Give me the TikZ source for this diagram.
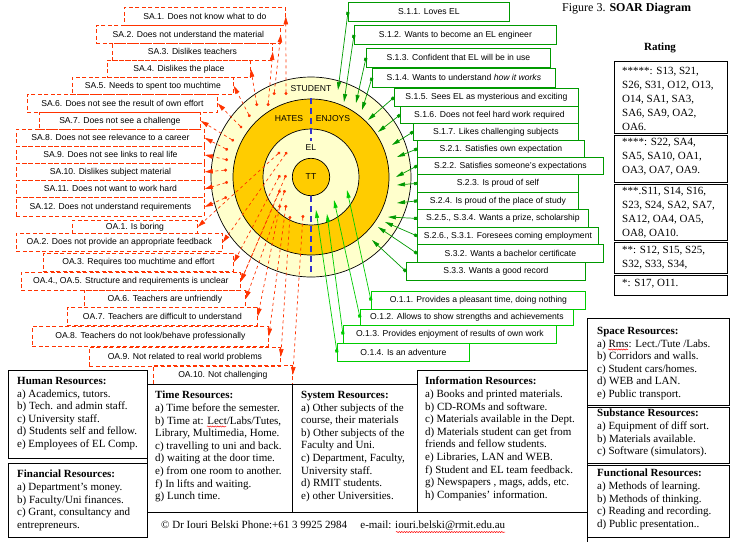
\documentclass[tikz,border=0pt]{standalone}
\usepackage{fontspec}
\setmainfont{Liberation Serif}
\newfontfamily\arialfont{Liberation Sans}
\usetikzlibrary{arrows.meta,decorations.pathmorphing}
\definecolor{myorange}{RGB}{255,204,0}
\definecolor{mycream}{RGB}{255,255,204}
\definecolor{myred}{RGB}{255,51,0}
\definecolor{mygreen}{RGB}{0,153,0}
\definecolor{mylime}{RGB}{0,204,0}
\definecolor{myblue}{RGB}{51,51,204}

\begin{document}
\begin{tikzpicture}[x=1pt, y=-1pt,
    lbl/.style={font=\arialfont\fontsize{8.6}{10}\selectfont},
    redbox/.style={lbl, draw=myred, dash pattern=on 4pt off 2.5pt, line width=0.8pt, inner sep=0pt, anchor=north west},
    sbox/.style={lbl, draw=mygreen, line width=0.8pt, inner sep=0pt, anchor=north west},
    obox/.style={sbox, draw=mylime},
    redline/.style={myred, line width=0.7pt, dash pattern=on 3pt off 3pt, {Circle[length=3pt]}-{Triangle[length=8pt,width=4.5pt]}},
    sline/.style={mygreen, line width=0.7pt, {Square[length=3pt]}-{Triangle[length=8pt,width=4pt]}},
    oline/.style={sline, mylime},
    restext/.style={font=\fontsize{11}{12.6}\selectfont, align=left, anchor=north west, inner sep=0pt},
    ratetext/.style={restext, font=\fontsize{11}{14}\selectfont},
    frame/.style={draw=black, line width=0.8pt},
    blueaxis/.style={myblue, line width=1.6pt, dash pattern=on 6pt off 4pt},
    spellwave/.style={red, line width=0.5pt, decorate, decoration={snake, amplitude=0.6pt, segment length=2.5pt}}
]
\useasboundingbox (0,0) rectangle (734,542);

    % the SOAR circles
    \coordinate (ctr) at (311,177);
    \draw[line width=0.7pt, fill=mycream] (ctr) circle[radius=100];
    \draw[line width=0.7pt, fill=myorange] (ctr) circle[radius=78];
    \draw[line width=0.7pt, fill=mycream] (ctr) circle[radius=48];
    \draw[line width=0.7pt, fill=myorange] (ctr) circle[radius=18.7];
    \draw[blueaxis] (311,98) -- (311,141);
    \draw[blueaxis] (311,196) -- (311,276);
    \node[lbl] (student) at (311,89) {STUDENT};
    \node[lbl] (hates) at (289,119) {HATES};
    \node[lbl] (enjoys) at (333,119) {ENJOYS};
    \node[lbl] (el) at (311,148) {EL};
    \node[lbl] (tt) at (311,177) {TT};

    % red dashed boxes on the left (name/left/top/right/bottom/text)
    \foreach \nm/\l/\t/\r/\b/\txt in {
        sa1/124/7/285/25/{SA.1. Does not know what to do},
        sa2/96/25/280/43/{SA.2. Does not understand the material},
        sa3/112/43/272/60/{SA.3. Dislikes teachers},
        sa4/107/60/250/77/{SA.4. Dislikes the place},
        sa5/72/77/233/94/{SA.5. Needs to spent too muchtime},
        sa6/27/94/217/112/{SA.6. Does not see the result of own effort},
        sa7/39/112/200/129/{SA.7. Does not see a challenge},
        sa8/16/129/204/146/{SA.8. Does not see relevance to a career},
        sa9/16/146/204/163/{SA.9. Does not see links to real life},
        sa10/16/163/204/180/{SA.10. Dislikes subject material},
        sa11/16/180/204/197/{SA.11. Does not want to work hard},
        sa12/16/197/204/216/{SA.12. Does not understand requirements},
        oa1/72/220/197/233/{OA.1. Is boring},
        oa2/16/233/222/251/{OA.2. Does not provide an appropriate feedback},
        oa3/43/253/233/271/{OA.3. Requires too muchtime and effort},
        oa45/21/272/240/290/{OA.4., OA.5. Structure and requirements is unclear},
        oa6/84/290/245/307/{OA.6. Teachers are unfriendly},
        oa7/67/307/257/325/{OA.7. Teachers are difficult to understand},
        oa8/32/326/268/346/{OA.8. Teachers do not look/behave professionally},
        oa9/89/347/280/366/{OA.9. Not related to real world problems},
        oa10/153/365/292/384/{OA.10. Not challenging}} {
        \node[redbox, minimum width={(\r-\l)*1pt}, minimum height={(\b-\t)*1pt}] (\nm) at (\l,\t) {\txt};
    }

    % green boxes on the right
    \foreach \nm/\l/\t/\r/\b/\txt in {
        s11/348/2/509/21/{S.1.1. Loves EL},
        s12/354/25/556/44/{S.1.2. Wants to become an EL engineer},
        s13/366/48/550/67/{S.1.3. Confident that EL will be in use},
        s14/372/68/555/87/{S.1.4. Wants to understand \textit{how it works}},
        s15/394/88/578/106/{S.1.5. Sees EL as mysterious and exciting},
        s16/400/106/578/123/{S.1.6. Does not feel hard work required},
        s17/413/123/578/140/{S.1.7. Likes challenging subjects},
        s21/417/140/584/157/{S.2.1. Satisfies own expectation},
        s22/417/157/603/174/{S.2.2. Satisfies someone’s expectations},
        s23/417/174/578/192/{S.2.3. Is proud of self},
        s24/417/192/578/209/{S.2.4. Is proud of the place of study},
        s25/417/209/588/227/{S.2.5., S.3.4. Wants a prize, scholarship},
        s26/417/227/598/244/{S.2.6., S.3.1. Foresees coming employment},
        s32/417/244/603/262/{S.3.2. Wants a bachelor certificate},
        s33/406/262/585/280/{S.3.3. Wants a good record}} {
        \node[sbox, minimum width={(\r-\l)*1pt}, minimum height={(\b-\t)*1pt}] (\nm) at (\l,\t) {\txt};
    }
    \foreach \nm/\l/\t/\r/\b/\txt in {
        o11/371/291/585/309/{O.1.1. Provides a pleasant time, doing nothing},
        o12/360/309/573/325/{O.1.2. Allows to show strengths and achievements},
        o13/343/325/556/343/{O.1.3. Provides enjoyment of results of own work},
        o14/337/343/469/361/{O.1.4. Is an adventure}} {
        \node[obox, minimum width={(\r-\l)*1pt}, minimum height={(\b-\t)*1pt}] (\nm) at (\l,\t) {\txt};
    }

    % red connectors: from the circles out to the boxes
    \foreach \nm/\px/\py in {sa1/286/95, sa2/274/95, sa3/268/106, sa4/257/106,
        sa5/250/117, sa6/242/128, sa7/234/141, sa8/228/150, sa9/228/160,
        sa10/227/170, sa11/228/182, sa12/227/197, oa1/280/152, oa2/287/152,
        oa3/280/175, oa45/286/175, oa6/285/190, oa7/280/205, oa8/286/205,
        oa9/290/216, oa10/303/215} {
        \coordinate (t\nm) at (\px,\py);
        \draw[redline] (t\nm) -- (\nm.east);
    }
    \coordinate (toa45b) at (280,190);
    \draw[redline] (toa45b) -- (oa45.east);

    % green connectors: from the boxes into the circles
    \foreach \nm/\px/\py in {s11/338/90, s12/344/102, s13/356/103, s14/362/110,
        s15/368/120, s16/378/132, s17/392/145, s21/397/157, s22/396/177,
        s23/397/185, s24/397/203, s25/388/217, s26/385/222, s32/378/227,
        s33/372/240} {
        \coordinate (t\nm) at (\px,\py);
        \draw[sline] (\nm.west) -- (t\nm);
    }
    \foreach \nm/\px/\py in {o11/347/190, o12/334/200, o13/327/214, o14/316/210} {
        \coordinate (t\nm) at (\px,\py);
        \draw[oline] (\nm.west) -- (t\nm);
    }

    % title and rating table
    \node[anchor=west, inner sep=0pt, font=\fontsize{12}{14}\selectfont] (title) at (562,9) {Figure 3. \textbf{SOAR Diagram}};
    \node[font=\bfseries\fontsize{11}{13}\selectfont] (rating) at (660,48) {Rating};
    \draw[frame] (614,61) rectangle (727,133);
    \draw[frame] (614,135) rectangle (727,182);
    \draw[frame] (614,184) rectangle (727,240);
    \draw[frame] (614,242) rectangle (727,273);
    \draw[frame] (614,275) rectangle (727,295);
    \node[ratetext] (r5) at (622,67) {*****: S13, S21,\\S26, S31, O12, O13,\\O14, SA1, SA3,\\SA6, SA9, OA2,\\OA6.};
    \node[ratetext] (r4) at (622,138) {****: S22, SA4,\\SA5, SA10, OA1,\\OA3, OA7, OA9.};
    \node[ratetext] (r3) at (622,187) {***.S11, S14, S16,\\S23, S24, SA2, SA7,\\SA12, OA4, OA5,\\OA8, OA10.};
    \node[ratetext] (r2) at (622,246) {**: S12, S15, S25,\\S32, S33, S34,};
    \node[ratetext] (r1) at (622,279) {*: S17, O11.};

    % resources
    \draw[frame] (8,370) rectangle (147,458);
    \draw[frame] (8,463) rectangle (147,537);
    \draw[frame] (147,384) rectangle (292,512);
    \draw[frame] (292,384) rectangle (417,512);
    \draw[frame] (417,370) rectangle (587,512);
    \draw[frame] (587,512) -- (587,542);
    \draw[frame] (587,318) rectangle (729,405);
    \draw[frame] (587,407) rectangle (729,463);
    \draw[frame] (587,465) rectangle (729,537);
    \node[restext] (human) at (17,377) {\textbf{Human Resources:}\\a) Academics, tutors.\\b) Tech. and admin staff.\\c) University staff.\\d) Students self and fellow.\\e) Employees of EL Comp.};
    \node[restext] (money) at (17,470) {\textbf{Financial Resources:}\\a) Department’s money.\\b) Faculty/Uni finances.\\c) Grant, consultancy and\\entrepreneurs.};
    \node[restext] (time) at (155,391) {\textbf{Time Resources:}\\a) Time before the semester.\\b) Time at: Lect/Labs/Tutes,\\Library, Multimedia, Home.\\c) travelling to uni and back.\\d) waiting at the door time.\\e) from one room to another.\\f) In lifts and waiting.\\g) Lunch time.};
    \node[restext] (system) at (301,391) {\textbf{System Resources:}\\a) Other subjects of the\\course, their materials\\b) Other subjects of the\\Faculty and Uni.\\c) Department, Faculty,\\University staff.\\d) RMIT students.\\e) other Universities.};
    \node[restext] (info) at (425,377) {\textbf{Information Resources:}\\a) Books and printed materials.\\b) CD-ROMs and software.\\c) Materials available in the Dept.\\d) Materials student can get from\\friends and fellow students.\\e) Libraries, LAN and WEB.\\f) Student and EL team feedback.\\g) Newspapers , mags, adds, etc.\\h) Companies’ information.};
    \node[restext] (space) at (597,327) {\textbf{Space Resources:}\\a) Rms: Lect./Tute /Labs.\\b) Corridors and walls.\\c) Student cars/homes.\\d) WEB and LAN.\\e) Public transport.};
    \node[restext] (substance) at (597,409) {\textbf{Substance Resources:}\\a) Equipment of diff sort.\\b) Materials available.\\c) Software (simulators).};
    \node[restext] (func) at (597,469) {\textbf{Functional Resources:}\\a) Methods of learning.\\b) Methods of thinking.\\c) Reading and recording.\\d) Public presentation..};
    \node[anchor=west, inner sep=0pt, font=\fontsize{11}{13}\selectfont] (contact) at (161,526) {© Dr Iouri Belski Phone:+61 3 9925 2984\hspace{1.2em}e-mail: iouri.belski@rmit.edu.au};

    % spell-check marks under some words
    \draw[spellwave] (207,426.5) -- (226,426.5);
    \draw[spellwave] (608,349.5) -- (628,349.5);
    \draw[spellwave] (396,532) -- (505,532);
\end{tikzpicture}
\end{document}
